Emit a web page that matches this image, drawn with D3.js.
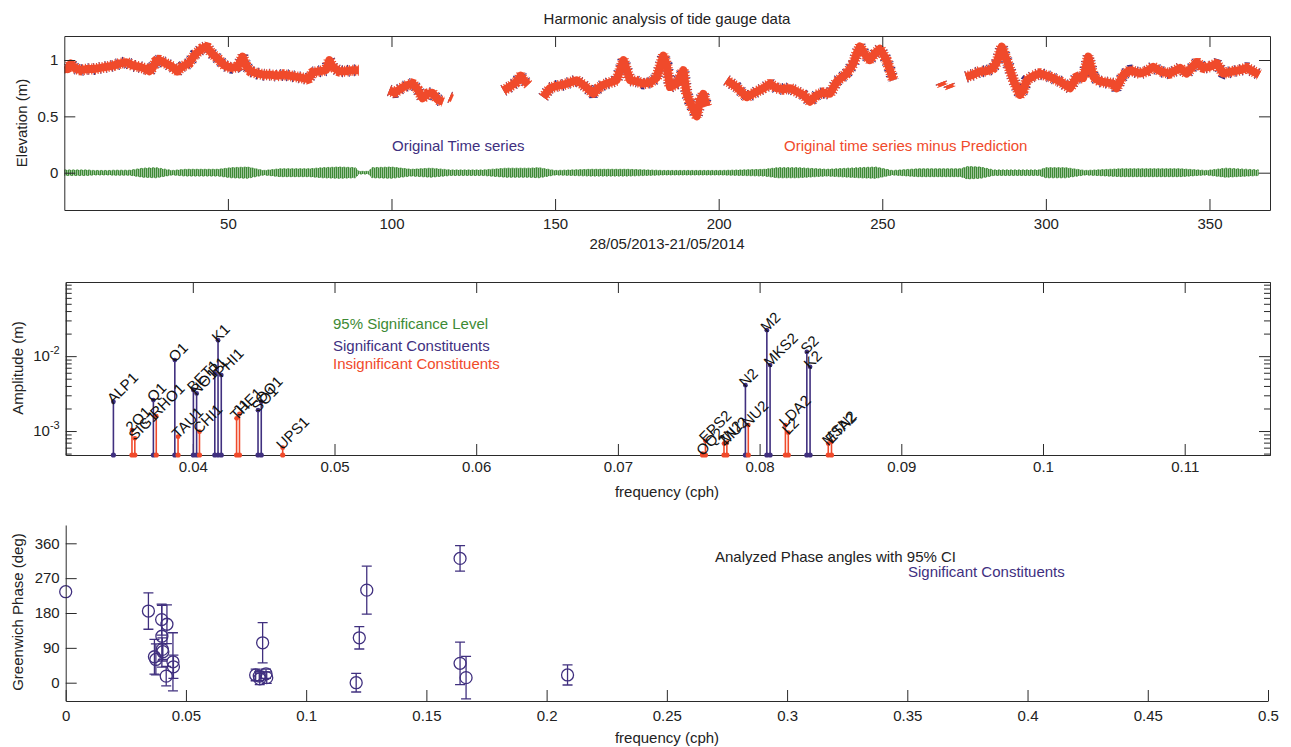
<!DOCTYPE html>
<html>
<head>
<meta charset="utf-8">
<script src="https://cdn.jsdelivr.net/npm/d3@7"></script>
<style>
  body { margin: 0; background: #fff; }
  svg text { font-family: "Liberation Sans", Arial, sans-serif; fill: #222; }
</style>
</head>
<body>
<svg id="chart" width="1291" height="747"></svg>
<script>
// ---- top panel: elevation series (day, metres); null breaks the line at data gaps
const levelDay = [0,1,2,3,5,7,9,11,13,15,17,19,21,23,25,26,27,28,29,31,33,34.5,36,38,40,42,43.5,45,47,49,51,53,54.5,55.5,57,59,61,63,65,67,69,71,73,74.5,76,78,80,81,82,84,86,88,90,
  null, 99.3,101,103,105,106.5,108,109.5,111,112.5,114,115.8,
  null, 117.8,118.6,
  null, 134.2,136,138,139.5,140.5,141.8,
  null, 146.4,148.4,150.5,152.5,154.5,156.6,158.6,160.2,161.7,163.2,164.7,166.8,168.8,170.9,172.9,175,177,179,181,183.1,184.1,185.1,187.2,189.2,190.2,191.3,192.3,193.3,194.3,195.3,196.3,
  null, 202.4,205.5,208.6,211.6,213.7,215.7,217.7,219.8,221.8,223.8,225.9,227.9,230,232,234,236.1,239.1,241.2,242.2,243.2,244.7,246.2,247.8,249.3,251.3,253.4,
  null, 268.0,268.4,
  null, 270.4,270.8,
  null, 275.6,277.8,279.9,281.9,283.9,285,286.5,288,290.1,292.1,293.1,294.1,296.2,298.2,301.3,304.3,307.4,309.4,311.4,313,314.5,316.5,318.5,320.6,321.6,323.7,325.7,328.8,330.8,332.8,334.9,337.9,341,343,346.1,348.1,350.2,352.2,354.2,357.3,359.3,361.4,363.3,365.2];
const levelVal = [0.94,0.92,0.97,0.93,0.91,0.92,0.92,0.93,0.94,0.95,0.97,0.98,0.95,0.94,0.92,0.90,0.93,0.99,1.00,0.97,0.94,0.90,0.94,0.97,1.05,1.10,1.12,1.06,1.01,0.95,0.93,0.94,1.03,0.95,0.90,0.88,0.87,0.87,0.86,0.87,0.86,0.85,0.84,0.83,0.89,0.90,0.91,1.00,0.94,0.90,0.90,0.91,0.91,
  null, 0.73,0.71,0.75,0.78,0.79,0.74,0.66,0.70,0.71,0.65,0.63,
  null, 0.67,0.66,
  null, 0.73,0.76,0.80,0.86,0.82,0.78,
  null, 0.67,0.75,0.77,0.78,0.80,0.82,0.78,0.74,0.70,0.75,0.78,0.80,0.82,1.00,0.82,0.81,0.79,0.80,0.84,1.04,0.96,0.76,0.79,0.91,0.70,0.62,0.56,0.50,0.64,0.70,0.59,
  null, 0.82,0.76,0.67,0.72,0.75,0.79,0.75,0.74,0.75,0.72,0.69,0.63,0.69,0.71,0.70,0.81,0.88,0.97,1.06,1.12,1.05,1.00,1.06,1.10,1.00,0.82,
  null, 0.80,0.77,
  null, 0.78,0.75,
  null, 0.85,0.87,0.90,0.90,0.93,0.98,1.12,1.00,0.82,0.69,0.73,0.82,0.86,0.88,0.85,0.81,0.75,0.85,0.84,1.03,0.85,0.81,0.80,0.79,0.75,0.87,0.91,0.88,0.90,0.94,0.90,0.88,0.93,0.88,0.98,0.93,0.94,0.97,0.88,0.90,0.91,0.93,0.90,0.87];

// tidal band near zero: half-height of the green envelope (m)
const tideDay = [0,7,9,14,15,20,24,28,33,37,47,51,56,61,66,75,79,84,89,90,93,94,100,106,112,118,128,135,142,145,150,161,172,183,201,214,218,224,233,243,248,253,261,274,276,280,284,298,300,306,312,323,341,349,355,365];
const tideAmp = [0.025,0.025,0.02,0.02,0.022,0.022,0.04,0.045,0.02,0.03,0.03,0.045,0.05,0.02,0.035,0.035,0.045,0.05,0.045,0.012,0.012,0.045,0.05,0.03,0.04,0.025,0.025,0.04,0.04,0.045,0.02,0.03,0.03,0.02,0.02,0.03,0.045,0.045,0.03,0.045,0.05,0.02,0.035,0.035,0.055,0.05,0.025,0.025,0.045,0.045,0.02,0.035,0.035,0.02,0.04,0.025];

const dayTicks = [50,100,150,200,250,300,350];
const elevTicks = [0, 0.5, 1];

// ---- middle panel: constituent amplitudes
const consName = ["ALP1","2Q1","SIG1","Q1","RHO1","O1","TAU1","BET1","NO1","CHI1","P1","K1","PHI1","THE1","J1","SO1","OO1","UPS1",
  "OQ2","EPS2","2N2","MU2","N2","NU2","M2","MKS2","LDA2","L2","S2","K2","MSN2","ETA2"];
const consFreq = [0.0343966,0.0357064,0.0359087,0.0372185,0.0374209,0.0387307,0.0389588,0.0400404,0.0402686,0.0404710,0.0415526,0.0417807,0.0420089,0.0430905,0.0432929,0.0446027,0.0448308,0.0463430,
  0.0759749,0.0761773,0.0774871,0.0776895,0.0789992,0.0792016,0.0805114,0.0807396,0.0818212,0.0820236,0.0833333,0.0835615,0.0848455,0.0850736];
const consAmp = [0.00246,0.00103,0.00080,0.00259,0.00158,0.00885,0.00084,0.00352,0.00318,0.00098,0.00588,0.0163,0.00558,0.00148,0.0017,0.0019,0.00246,0.0006,
  0.0005,0.00074,0.00068,0.0007,0.0041,0.0012,0.0222,0.0076,0.0012,0.00095,0.0114,0.0072,0.00068,0.00072];
const consSig = [1,0,0,1,0,1,0,1,1,0,1,1,1,0,0,1,1,0, 0,0,0,0,1,0,1,1,0,0,1,1,0,0];
const freqTicks = [0.04,0.05,0.06,0.07,0.08,0.09,0.1,0.11];

// ---- bottom panel: phases with 95% CI
const phaseFreq = [0, 0.0344, 0.0369, 0.0375, 0.0399, 0.0400, 0.0402, 0.0404, 0.0418, 0.0421, 0.0446, 0.0448, 0.0790, 0.0805, 0.0807, 0.0819, 0.0833, 0.0836, 0.1208, 0.1221, 0.1252, 0.1640, 0.1640, 0.1665, 0.2087];
const phaseDeg  = [235, 185, 67, 60, 163, 120, 86, 80, 17, 151, 54, 41, 20, 17, 10, 103, 23, 13, 0, 116, 239, 321, 50, 13, 20];
const phaseCI   = [null, 47, 45, 40, 40, 80, 30, 20, 25, 50, 75, 30, 15, 12, 15, 52, 12, 15, 24, 29, 62, 33, 55, 55, 26];
const phaseTicks = [0, 90, 180, 270, 360];
const freqTicks2 = [0,0.05,0.1,0.15,0.2,0.25,0.3,0.35,0.4,0.45,0.5];

const purple = "#40307f", red = "#f04a2b", green = "#3d8a35", ink = "#2a2a2a";
const FS = 15;
const svg = d3.select("#chart");

function styleAxis(g, labels) {
  g.attr("font-family", null).attr("font-size", null);
  g.select(".domain").attr("stroke", ink);
  g.selectAll(".tick line").attr("stroke", ink);
  g.selectAll(".tick text").attr("fill", "#222").style("font-size", FS + "px");
  if (!labels) g.selectAll(".tick text").remove();
  return g;
}
function put(axis, tx, ty, labels) {
  return styleAxis(svg.append("g").attr("transform", `translate(${tx},${ty})`).call(axis), labels);
}
function text(x, y, s, o = {}) {
  return svg.append("text").attr("x", x).attr("y", y).text(s)
    .attr("text-anchor", o.anchor || "start")
    .attr("dominant-baseline", "central")
    .style("font-size", (o.size || FS) + "px")
    .style("fill", o.fill || "#222")
    .attr("transform", o.rot ? `rotate(${o.rot},${x},${y})` : null);
}

// ================= panel 1 =================
const p1 = { l: 64.3, r: 1270, t: 36, b: 210 };
const x1 = d3.scaleLinear().domain([0, 368.5]).range([p1.l, p1.r]);
const y1 = d3.scaleLinear().domain([-0.331, 1.213]).range([p1.b, p1.t]);

svg.append("clipPath").attr("id", "c1").append("rect")
  .attr("x", p1.l).attr("y", p1.t).attr("width", p1.r - p1.l).attr("height", p1.b - p1.t);
const g1 = svg.append("g").attr("clip-path", "url(#c1)");

const pat = svg.append("defs").append("pattern").attr("id", "hatch")
  .attr("patternUnits", "userSpaceOnUse").attr("width", 2).attr("height", 4);
pat.append("rect").attr("width", 1.5).attr("height", 4).attr("fill", green);

const tide = tideDay.map((d, i) => ({ d, a: tideAmp[i] }));
g1.append("path").datum(tide)
  .attr("fill", "url(#hatch)")
  .attr("stroke", green).attr("stroke-width", 0.8).attr("stroke-dasharray", "2,2")
  .attr("d", d3.area().x(p => x1(p.d)).y0(p => y1(-p.a)).y1(p => y1(p.a)));

const level = levelDay.map((d, i) => ({ d, v: levelVal[i] }));
const lineGen = d3.line().defined(p => p.v != null).x(p => x1(p.d)).y(p => y1(p.v));
// purple original series underneath: dashes give the sparse dark spikes around the band
g1.append("path").datum(level).attr("fill", "none").attr("stroke", purple)
  .attr("stroke-width", 12).attr("stroke-dasharray", "1,5").attr("stroke-linejoin", "bevel").attr("d", lineGen);
g1.append("path").datum(level).attr("fill", "none").attr("stroke", red)
  .attr("stroke-width", 11).attr("stroke-dasharray", "1.2,1.6").attr("stroke-linejoin", "bevel").attr("d", lineGen);
g1.append("path").datum(level).attr("fill", "none").attr("stroke", red)
  .attr("stroke-width", 8).attr("stroke-linejoin", "round").attr("d", lineGen);

put(d3.axisBottom(x1).tickValues(dayTicks).tickSize(-11).tickSizeOuter(0).tickPadding(8), 0, p1.b, true);
put(d3.axisTop(x1).tickValues(dayTicks).tickSize(-11).tickSizeOuter(0), 0, p1.t, false);
put(d3.axisLeft(y1).tickValues(elevTicks).tickFormat(d3.format("~g")).tickSize(-11).tickSizeOuter(0).tickPadding(6), p1.l, 0, true);
put(d3.axisRight(y1).tickValues(elevTicks).tickSize(-11).tickSizeOuter(0), p1.r, 0, false);

text(667, 18, "Harmonic analysis of tide gauge data", { anchor: "middle" });
text(667, 243, "28/05/2013-21/05/2014", { anchor: "middle" });
text(21, 123, "Elevation (m)", { anchor: "middle", rot: -90 });
text(392, 145, "Original Time series", { fill: purple });
text(784, 145, "Original time series minus Prediction", { fill: red });

// ================= panel 2 =================
const p2 = { l: 65.7, r: 1270, t: 282, b: 455 };
const x2 = d3.scaleLinear().domain([0.03103, 0.11602]).range([p2.l, p2.r]);
const y2 = d3.scaleLog().domain([Math.pow(10, -3.32), Math.pow(10, -1.01)]).range([p2.b, p2.t]);
const majors = [1e-3, 1e-2];
const minors = y2.ticks().filter(v => !majors.some(m => Math.abs(v - m) < 1e-12));

put(d3.axisBottom(x2).tickValues(freqTicks).tickFormat(d3.format("~g")).tickSize(-11).tickSizeOuter(0).tickPadding(6), 0, p2.b, true);
put(d3.axisTop(x2).tickValues(freqTicks).tickSize(-11).tickSizeOuter(0), 0, p2.t, false);
put(d3.axisLeft(y2).tickValues(majors).tickSize(-11).tickSizeOuter(0), p2.l, 0, false);
put(d3.axisLeft(y2).tickValues(minors).tickSize(-6).tickSizeOuter(0), p2.l, 0, false);
put(d3.axisRight(y2).tickValues(majors).tickSize(-11).tickSizeOuter(0), p2.r, 0, false);
put(d3.axisRight(y2).tickValues(minors).tickSize(-6).tickSizeOuter(0), p2.r, 0, false);

majors.forEach(m => {
  const t = svg.append("text").attr("x", p2.l - 6).attr("y", y2(m) + 5)
    .attr("text-anchor", "end").style("font-size", FS + "px");
  t.append("tspan").text("10");
  t.append("tspan").attr("dy", -7).style("font-size", "11px").text(String(Math.round(Math.log10(m))));
});

const cons = consName.map((n, i) => ({ n, f: consFreq[i], a: consAmp[i], s: consSig[i] }));
const gc = svg.append("g");
gc.selectAll("line.stem").data(cons).join("line").attr("class", "stem")
  .attr("x1", d => x2(d.f)).attr("x2", d => x2(d.f))
  .attr("y1", d => y2(d.a)).attr("y2", p2.b)
  .attr("stroke", d => d.s ? purple : red).attr("stroke-width", 1.6);
gc.selectAll("circle.top").data(cons).join("circle").attr("class", "top")
  .attr("cx", d => x2(d.f)).attr("cy", d => y2(d.a)).attr("r", 2.4)
  .attr("fill", d => d.s ? purple : red);
gc.selectAll("circle.bot").data(cons).join("circle").attr("class", "bot")
  .attr("cx", d => x2(d.f)).attr("cy", p2.b).attr("r", 2.6)
  .attr("fill", d => d.s ? purple : red);
gc.selectAll("text").data(cons).join("text")
  .attr("x", d => x2(d.f) - 4).attr("y", d => y2(d.a) - 1)
  .attr("transform", d => `rotate(-45,${x2(d.f) - 4},${y2(d.a) - 1})`)
  .attr("dominant-baseline", "central")
  .style("font-size", "15px").style("fill", "#111")
  .text(d => d.n);

text(667, 491, "frequency (cph)", { anchor: "middle" });
text(17, 368, "Amplitude (m)", { anchor: "middle", rot: -90 });
text(333, 323, "95% Significance Level", { fill: green });
text(333, 345, "Significant Constituents", { fill: purple });
text(333, 363, "Insignificant Constituents", { fill: red });

// ================= panel 3 =================
const p3 = { l: 65.7, r: 1268, t: 525, b: 701 };
const x3 = d3.scaleLinear().domain([0, 0.5]).range([p3.l, p3.r]);
const y3 = d3.scaleLinear().domain([-47.3, 407.3]).range([p3.b, p3.t]);

svg.append("clipPath").attr("id", "c3").append("rect")
  .attr("x", p3.l - 10).attr("y", p3.t).attr("width", p3.r - p3.l + 20).attr("height", p3.b - p3.t);
const g3 = svg.append("g").attr("clip-path", "url(#c3)");
const ph = phaseFreq.map((f, i) => ({ f, p: phaseDeg[i], c: phaseCI[i] }));
const withCI = ph.filter(d => d.c != null);
g3.selectAll("line.bar").data(withCI).join("line").attr("class", "bar")
  .attr("x1", d => x3(d.f)).attr("x2", d => x3(d.f))
  .attr("y1", d => y3(d.p - d.c)).attr("y2", d => y3(d.p + d.c))
  .attr("stroke", purple).attr("stroke-width", 1.3);
[1, -1].forEach(sgn => {
  g3.selectAll(null).data(withCI).join("line")
    .attr("x1", d => x3(d.f) - 5).attr("x2", d => x3(d.f) + 5)
    .attr("y1", d => y3(d.p + sgn * d.c)).attr("y2", d => y3(d.p + sgn * d.c))
    .attr("stroke", purple).attr("stroke-width", 1.3);
});
g3.selectAll("circle").data(ph).join("circle")
  .attr("cx", d => x3(d.f)).attr("cy", d => y3(d.p)).attr("r", 6)
  .attr("fill", "none").attr("stroke", purple).attr("stroke-width", 1.3);

put(d3.axisBottom(x3).tickValues(freqTicks2).tickFormat(d3.format("~g")).tickSize(-11).tickSizeOuter(0).tickPadding(9), 0, p3.b, true);
put(d3.axisLeft(y3).tickValues(phaseTicks).tickSize(-11).tickSizeOuter(0).tickPadding(6), p3.l, 0, true);

text(667, 737, "frequency (cph)", { anchor: "middle" });
text(17, 612, "Greenwich Phase (deg)", { anchor: "middle", rot: -90 });
text(715, 556, "Analyzed Phase angles with 95% CI");
text(908, 571, "Significant Constituents", { fill: purple });
</script>
</body>
</html>
